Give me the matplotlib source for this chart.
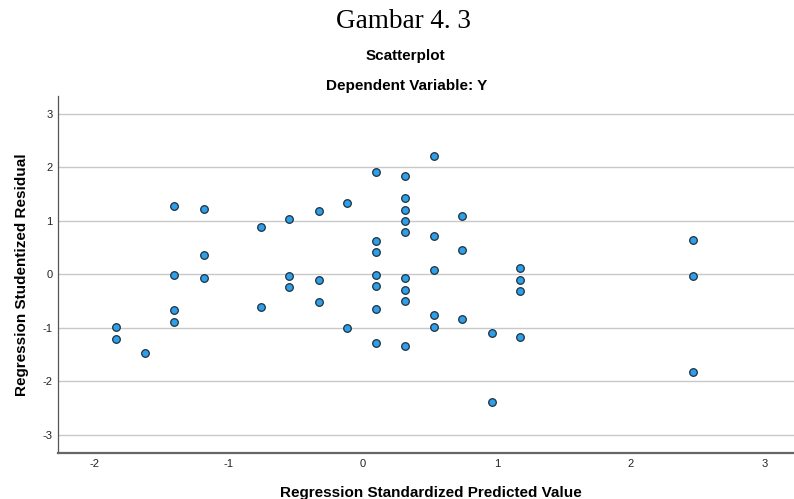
import matplotlib
matplotlib.use("Agg")
import matplotlib.pyplot as plt

predicted = [-1.84, -1.84, -1.63,
             -1.41, -1.41, -1.41, -1.41,
             -1.19, -1.19, -1.19,
             -0.76, -0.76,
             -0.55, -0.55, -0.55,
             -0.33, -0.33, -0.33,
             -0.12, -0.12,
             0.10, 0.10, 0.10, 0.10, 0.10, 0.10, 0.10,
             0.31, 0.31, 0.31, 0.31, 0.31, 0.31, 0.31, 0.31, 0.31,
             0.53, 0.53, 0.53, 0.53, 0.53,
             0.74, 0.74, 0.74,
             0.96, 0.96,
             1.17, 1.17, 1.17, 1.17,
             2.46, 2.46, 2.46]
residual = [-0.99, -1.21, -1.48,
            1.28, -0.01, -0.67, -0.89,
            1.22, 0.35, -0.08,
            0.87, -0.62,
            1.02, -0.04, -0.25,
            1.17, -0.11, -0.52,
            1.32, -1.01,
            1.90, 0.62, 0.41, -0.01, -0.22, -0.66, -1.29,
            1.84, 1.42, 1.20, 0.99, 0.78, -0.07, -0.29, -0.50, -1.35,
            2.21, 0.72, 0.08, -0.77, -0.99,
            1.09, 0.45, -0.84,
            -1.11, -2.40,
            0.11, -0.11, -0.32, -1.18,
            0.64, -0.04, -1.84]

x_ticks = [-2, -1, 0, 1, 2, 3]
y_ticks = [-3, -2, -1, 0, 1, 2, 3]

sans = "Liberation Sans"
serif = "Liberation Serif"

fig = plt.figure(figsize=(7.94, 4.99), dpi=100)
ax = fig.add_axes([0.073, 0.0928, 0.927, 0.715])

ax.set_xlim(-2.276, 3.216)
ax.set_ylim(-3.34, 3.33)
ax.set_yticks(y_ticks)
ax.set_xticks(x_ticks)
ax.set_yticklabels([str(v) for v in y_ticks], fontfamily=sans, fontsize=8, color="#222222")
ax.set_xticklabels([str(v) for v in x_ticks], fontfamily=sans, fontsize=8, color="#222222")
ax.tick_params(axis="y", length=0, pad=3.8)
ax.tick_params(axis="x", length=0, pad=4.5)
ax.grid(axis="y", color="#c8c8c8", linewidth=1.0)
ax.set_axisbelow(True)

for s in ["top", "right"]:
    ax.spines[s].set_visible(False)
ax.spines["left"].set_color("#555555")
ax.spines["left"].set_linewidth(0.9)
ax.spines["bottom"].set_color("#666666")
ax.spines["bottom"].set_linewidth(1.6)

ax.scatter(predicted, residual, s=30, facecolor="#2f9fe8", edgecolor="#1f2f3f",
           linewidth=0.9, zorder=3)

fig.text(0.508, 0.944, "Gambar 4. 3", fontfamily=serif, fontsize=19.5, ha="center", va="baseline")
fig.text(0.51, 0.880, "Scatterplot", fontfamily=sans, fontsize=11, fontweight="bold",
         ha="center", va="baseline")
fig.text(0.512, 0.8196, "Dependent Variable: Y", fontfamily=sans, fontsize=11, fontweight="bold",
         ha="center", va="baseline")
fig.text(431 / 794, 0.004, "Regression Standardized Predicted Value", fontfamily=sans, fontsize=11,
         fontweight="bold", ha="center", va="baseline")
fig.text(0.028, 0.45, "Regression Studentized Residual", fontfamily=sans, fontsize=11,
         fontweight="bold", ha="center", va="center", rotation=90)

fig.savefig("out.png", dpi=100)
